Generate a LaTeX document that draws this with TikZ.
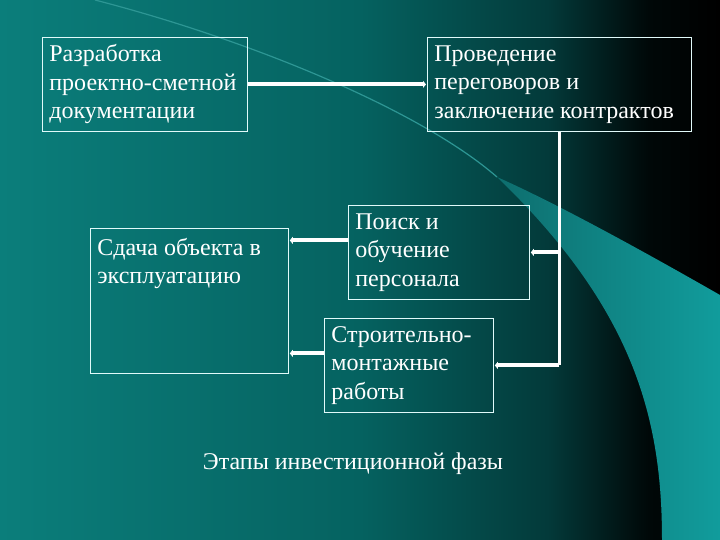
\documentclass[tikz,border=0pt]{standalone}
\usepackage{fontspec}
\setmainfont{Liberation Serif}
\usetikzlibrary{positioning, arrows.meta, calc}
\definecolor{bgteal}{RGB}{11,126,123}
\definecolor{bgmid}{RGB}{5,98,96}
\definecolor{bgdark}{RGB}{3,58,58}
\definecolor{bgblack}{RGB}{0,8,8}
\definecolor{bandlo}{RGB}{14,110,110}
\definecolor{bandhi}{RGB}{17,156,156}
\definecolor{arcline}{RGB}{45,150,148}
\definecolor{boxline}{RGB}{225,250,250}
% background: teal on the left, black on the right
\pgfdeclarehorizontalshading{slidebg}{100bp}{
	color(0bp)=(bgteal); color(25bp)=(bgteal);
	color(50bp)=(bgmid); color(63bp)=(bgdark);
	color(70bp)=(bgblack); color(75bp)=(black); color(100bp)=(black)}
\tikzset{
	x=1pt, y=-1pt, % one unit is one pixel of the slide, y going down
	stage/.style={draw=boxline, line width=0.8pt, anchor=north west,
		text=white, align=flush left, inner xsep=7pt, inner ysep=4pt,
		font=\fontsize{24}{28.5}\selectfont}, % sets the look of each box
	link/.style={draw=white, line width=4pt,
		-{Triangle[length=3pt,width=7pt]}, shorten >=1pt}, % arrows between boxes
	trunk/.style={draw=white, line width=3pt}, % the vertical feed line
}
\begin{document}
\begin{tikzpicture}
		\useasboundingbox (0,0) rectangle (720,540);
		\shade[shading=slidebg] (0,0) rectangle (720,540);
		% light band on the right
		\shade[left color=bandlo, right color=bandhi]
			(497,177) .. controls (560,205) and (650,255) .. (720,295)
			-- (720,540) -- (662,540)
			.. controls (662,420) and (635,310) .. (497,177) -- cycle;
		\draw[arcline, line width=1.2pt] (95,0) .. controls (250,40) and (420,110) .. (497,177);

		\node[stage, minimum width=205pt, minimum height=94pt, text width=191pt] (razr) at (42,37) {Разработка\\проектно-сметной\\документации};
		\node[stage, minimum width=264pt, minimum height=94pt, text width=250pt] (perg) at (427,37) {Проведение\\переговоров и\\заключение контрактов};
		\node[stage, minimum width=181pt, minimum height=94pt, text width=167pt] (poisk) at (348,205) {Поиск и\\обучение\\персонала};
		\node[stage, minimum width=198pt, text width=184pt, text height=23pt, text depth=114pt] (sdacha) at (90,228) {Сдача объекта в\\эксплуатацию};
		\node[stage, minimum width=169pt, minimum height=94pt, text width=155pt] (stroi) at (324,318) {Строительно-\\монтажные\\работы};
		\node[text=white, font=\fontsize{24}{28.5}\selectfont] (etapy) at (353,464) {Этапы инвестиционной фазы};

		\draw[link] (razr) -- (perg);
		\draw[trunk] (perg.south) -- (perg.south |- stroi.east);
		\draw[link] (perg.south |- poisk.east) -- (poisk.east);
		\draw[link] (perg.south |- stroi.east) -- (stroi.east);
		\draw[link] ([yshift=12pt]poisk.west) -- ([yshift=12pt]poisk.west -| sdacha.east);
		\draw[link] ([yshift=12pt]stroi.west) -- ([yshift=12pt]stroi.west -| sdacha.east);
	\end{tikzpicture}
\end{document}
